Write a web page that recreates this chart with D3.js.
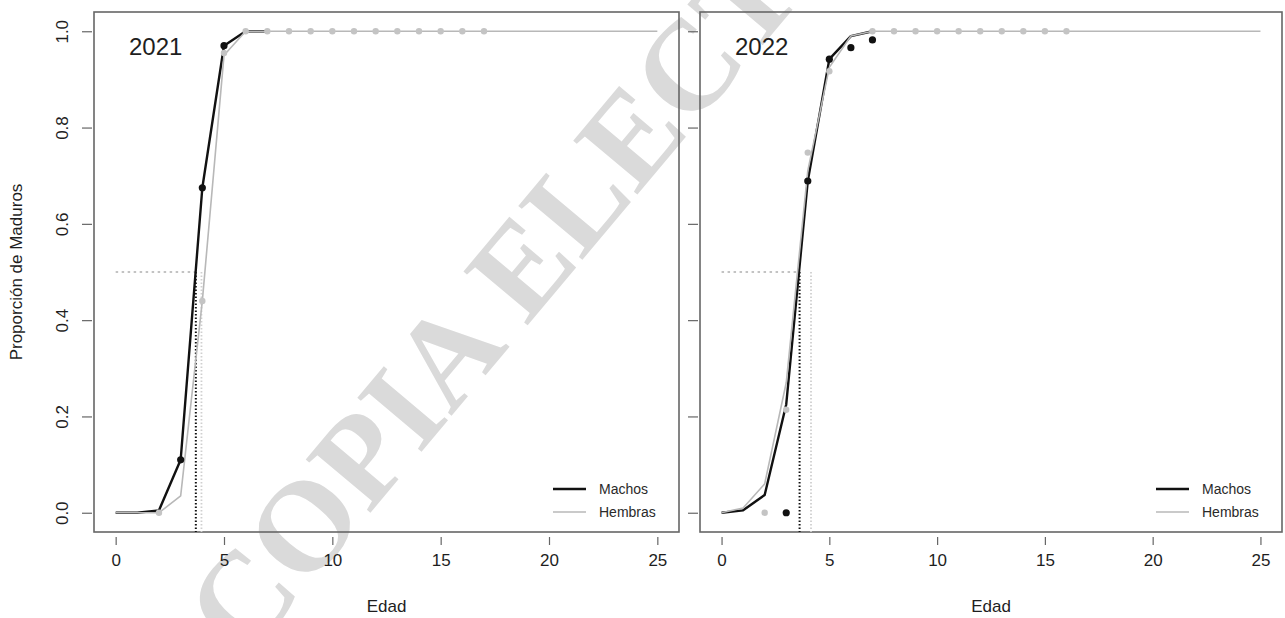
<!DOCTYPE html>
<html>
<head>
<meta charset="utf-8">
<script src="https://cdn.jsdelivr.net/npm/d3@7/dist/d3.min.js"></script>
<style>
  body { margin: 0; background: #fff; }
  svg { display: block; font-family: "Liberation Sans", Arial, sans-serif; }
</style>
</head>
<body>
<svg id="chart" width="1285" height="618"></svg>
<script>
// ── Data ──
const years = ['2021', '2022'];

const agesFit = [0, 1, 2, 3, 4, 5, 6, 7, 8, 9, 10, 11, 12, 13, 14, 15, 16, 17, 18, 19, 20, 21, 22, 23, 24, 25];

// fitted curves (proportion mature by age)
const fitMachos2021  = [0, 0, 0.005, 0.11, 0.675, 0.97, 1, 1];
const fitHembras2021 = [0, 0, 0, 0.035, 0.44, 0.95, 1, 1, 1, 1, 1, 1, 1, 1, 1, 1, 1, 1, 1, 1, 1, 1, 1, 1, 1, 1];
const fitMachos2022  = [0, 0.005, 0.037, 0.225, 0.689, 0.942, 0.99, 1];
const fitHembras2022 = [0, 0.01, 0.06, 0.27, 0.71, 0.925, 0.99, 1, 1, 1, 1, 1, 1, 1, 1, 1, 1, 1, 1, 1, 1, 1, 1, 1, 1, 1];

// observed proportions
const obsMachosAge2021  = [3, 4, 5];
const obsMachos2021     = [0.11, 0.675, 0.97];
const obsHembrasAge2021 = [2, 4, 5, 6, 7, 8, 9, 10, 11, 12, 13, 14, 15, 16, 17];
const obsHembras2021    = [0, 0.44, 0.955, 1, 1, 1, 1, 1, 1, 1, 1, 1, 1, 1, 1];

const obsMachosAge2022  = [3, 4, 5, 6, 7];
const obsMachos2022     = [0, 0.689, 0.942, 0.966, 0.982];
const obsHembrasAge2022 = [2, 3, 4, 5, 7, 8, 9, 10, 11, 12, 13, 14, 15, 16];
const obsHembras2022    = [0, 0.214, 0.748, 0.917, 1, 1, 1, 1, 1, 1, 1, 1, 1, 1];

// age at 50% maturity
const a50Machos  = [3.70, 3.62];
const a50Hembras = [3.96, 4.15];

const xTicks = [0, 5, 10, 15, 20, 25];
const yTicks = [0, 0.2, 0.4, 0.6, 0.8, 1.0];
const legendLabels = ['Machos', 'Hembras'];

// ── Layout ──
const panels = [
  { left: 94,  right: 679, yLabels: true,
    fitM: fitMachos2021, fitH: fitHembras2021,
    obsMA: obsMachosAge2021, obsM: obsMachos2021, obsHA: obsHembrasAge2021, obsH: obsHembras2021 },
  { left: 700, right: 1282, yLabels: false,
    fitM: fitMachos2022, fitH: fitHembras2022,
    obsMA: obsMachosAge2022, obsM: obsMachos2022, obsHA: obsHembrasAge2022, obsH: obsHembras2022 }
];
const plotTop = 12, plotBottom = 532;
const AXIS_FS = 17;

const BLACK = '#111', GREY = '#b8b8b8', TEXT = '#1e1e1e', FRAME = '#666';

const svg = d3.select('#chart');

// watermark sits behind the plot
svg.append('text')
  .attr('transform', 'translate(245,662) rotate(-50)')
  .attr('font-family', '"Liberation Serif", "Times New Roman", serif')
  .attr('font-weight', 'bold')
  .attr('font-size', 128)
  .attr('fill', '#dadada')
  .text('COPIA ELECTRÓNICA');

panels.forEach((p, i) => {
  const x = d3.scaleLinear().domain([-1, 26]).range([p.left, p.right]);
  const y = d3.scaleLinear().domain([-0.04, 1.04]).range([plotBottom, plotTop]);
  const g = svg.append('g');

  // frame
  g.append('rect')
    .attr('x', p.left).attr('y', plotTop)
    .attr('width', p.right - p.left).attr('height', plotBottom - plotTop)
    .attr('fill', 'none').attr('stroke', FRAME).attr('stroke-width', 1.6);

  // x axis (ticks only, no axis line)
  const xa = g.append('g').attr('transform', `translate(0,${plotBottom + 5})`)
    .call(d3.axisBottom(x).tickValues(xTicks).tickSize(8).tickPadding(9));
  xa.select('.domain').remove();
  xa.selectAll('line').attr('stroke', FRAME).attr('stroke-width', 1.2);
  xa.selectAll('text').attr('font-size', AXIS_FS).attr('fill', TEXT).attr('font-family', null);

  // y axis
  const ya = g.append('g').attr('transform', `translate(${p.left - 2},0)`)
    .call(d3.axisLeft(y).tickValues(yTicks).tickSize(10).tickFormat(d3.format('.1f')));
  ya.select('.domain').remove();
  ya.selectAll('line').attr('stroke', FRAME).attr('stroke-width', 1.2);
  if (p.yLabels) {
    ya.selectAll('text')
      .attr('font-size', AXIS_FS).attr('fill', TEXT).attr('font-family', null)
      .attr('text-anchor', 'middle')
      .attr('x', 0).attr('y', 0).attr('dy', '0.35em')
      .attr('transform', `translate(${62 - (p.left - 2)},0) rotate(-90)`);
  } else {
    ya.selectAll('text').remove();
  }

  // x title
  g.append('text')
    .attr('x', x(12.5)).attr('y', 612)
    .attr('text-anchor', 'middle').attr('font-size', AXIS_FS).attr('fill', TEXT)
    .text('Edad');

  // year label
  g.append('text')
    .attr('x', p.left + 35).attr('y', 55)
    .attr('font-size', 24).attr('fill', TEXT)
    .text(years[i]);

  // 50% reference lines
  g.append('line')
    .attr('x1', x(0)).attr('x2', x(a50Machos[i]))
    .attr('y1', y(0.5)).attr('y2', y(0.5))
    .attr('stroke', '#b0b0b0').attr('stroke-width', 1.5).attr('stroke-dasharray', '2.5 3.5');
  g.append('line')
    .attr('x1', x(a50Hembras[i])).attr('x2', x(a50Hembras[i]))
    .attr('y1', y(0.5)).attr('y2', plotBottom)
    .attr('stroke', '#cfcfcf').attr('stroke-width', 1.8).attr('stroke-dasharray', '1.5 2');
  g.append('line')
    .attr('x1', x(a50Machos[i])).attr('x2', x(a50Machos[i]))
    .attr('y1', y(0.5)).attr('y2', plotBottom)
    .attr('stroke', BLACK).attr('stroke-width', 2).attr('stroke-dasharray', '1.5 2');

  // fitted curves
  const line = d3.line().x(d => x(d[0])).y(d => y(d[1]));
  g.append('path')
    .datum(p.fitM.map((v, k) => [agesFit[k], v]))
    .attr('d', line).attr('fill', 'none')
    .attr('stroke', BLACK).attr('stroke-width', 2.4).attr('stroke-linejoin', 'round');
  g.append('path')
    .datum(p.fitH.map((v, k) => [agesFit[k], v]))
    .attr('d', line).attr('fill', 'none')
    .attr('stroke', GREY).attr('stroke-width', 1.6).attr('stroke-linejoin', 'round');

  // observed points
  g.selectAll('.pt-h')
    .data(p.obsH.map((v, k) => [p.obsHA[k], v]))
    .join('circle').attr('class', 'pt-h')
    .attr('cx', d => x(d[0])).attr('cy', d => y(d[1])).attr('r', 3.2)
    .attr('fill', '#c4c4c4');
  g.selectAll('.pt-m')
    .data(p.obsM.map((v, k) => [p.obsMA[k], v]))
    .join('circle').attr('class', 'pt-m')
    .attr('cx', d => x(d[0])).attr('cy', d => y(d[1])).attr('r', 3.6)
    .attr('fill', BLACK);

  // legend
  const lg = g.append('g').attr('transform', `translate(${p.right - 126},489)`);
  legendLabels.forEach((lab, k) => {
    lg.append('line')
      .attr('x1', 0).attr('x2', 33).attr('y1', k * 23).attr('y2', k * 23)
      .attr('stroke', k ? GREY : BLACK).attr('stroke-width', k ? 1.6 : 2.4);
    lg.append('text')
      .attr('x', 46).attr('y', k * 23 + 5)
      .attr('font-size', 14).attr('fill', '#2a2a2a')
      .text(lab);
  });
});

// y title
svg.append('text')
  .attr('transform', 'translate(22,272) rotate(-90)')
  .attr('text-anchor', 'middle').attr('font-size', AXIS_FS).attr('fill', TEXT)
  .text('Proporción de Maduros');
</script>
</body>
</html>
